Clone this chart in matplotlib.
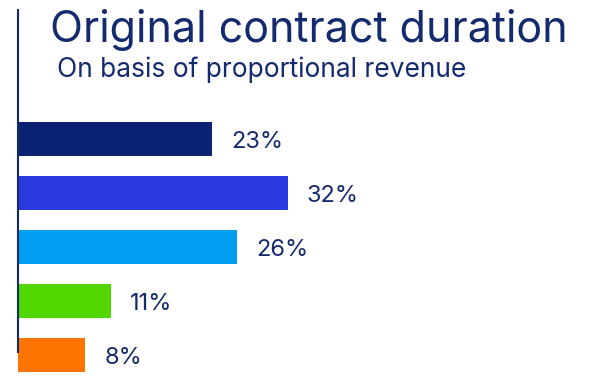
import matplotlib.pyplot as plt

# values
shares = [23, 32, 26, 11, 8]
bar_colors = ['#0c2272', '#2b3ade', '#009ff2', '#52d600', '#ff7300']
title = 'Original contract duration'
subtitle = 'On basis of proportional revenue'

navy = '#142a6e'
W, H = 613, 384
px_per_pct = 8.43
row_px = 54

plt.rcParams['font.family'] = ['Inter', 'DejaVu Sans']

fig = plt.figure(figsize=(W / 100, H / 100), dpi=100)
ax = fig.add_axes([18 / W, 0, 1 - 18 / W, 1])
ax.set_xlim(0, (W - 18) / px_per_pct)
first_center = 139
ax.set_ylim((H - first_center) / row_px, -first_center / row_px)

ypos = list(range(len(shares)))
ax.barh(ypos, shares, height=34 / row_px, color=bar_colors)
for y, v in zip(ypos, shares):
    ax.text(v + 19 / px_per_pct, y + 3 / row_px, f'{v}%', va='center', ha='left',
            fontsize=17, color=navy)

# vertical axis line
ax.plot([0, 0], [(10 - first_center) / row_px, (352 - first_center) / row_px],
        color=navy, lw=1.5, clip_on=False)
ax.axis('off')

fig.text(50 / W, 1 - 42 / H, title, fontsize=31, color=navy, va='baseline', ha='left')
fig.text(57 / W, 1 - 77 / H, subtitle, fontsize=19, color=navy, va='baseline', ha='left')

fig.savefig('out.png', dpi=100)
